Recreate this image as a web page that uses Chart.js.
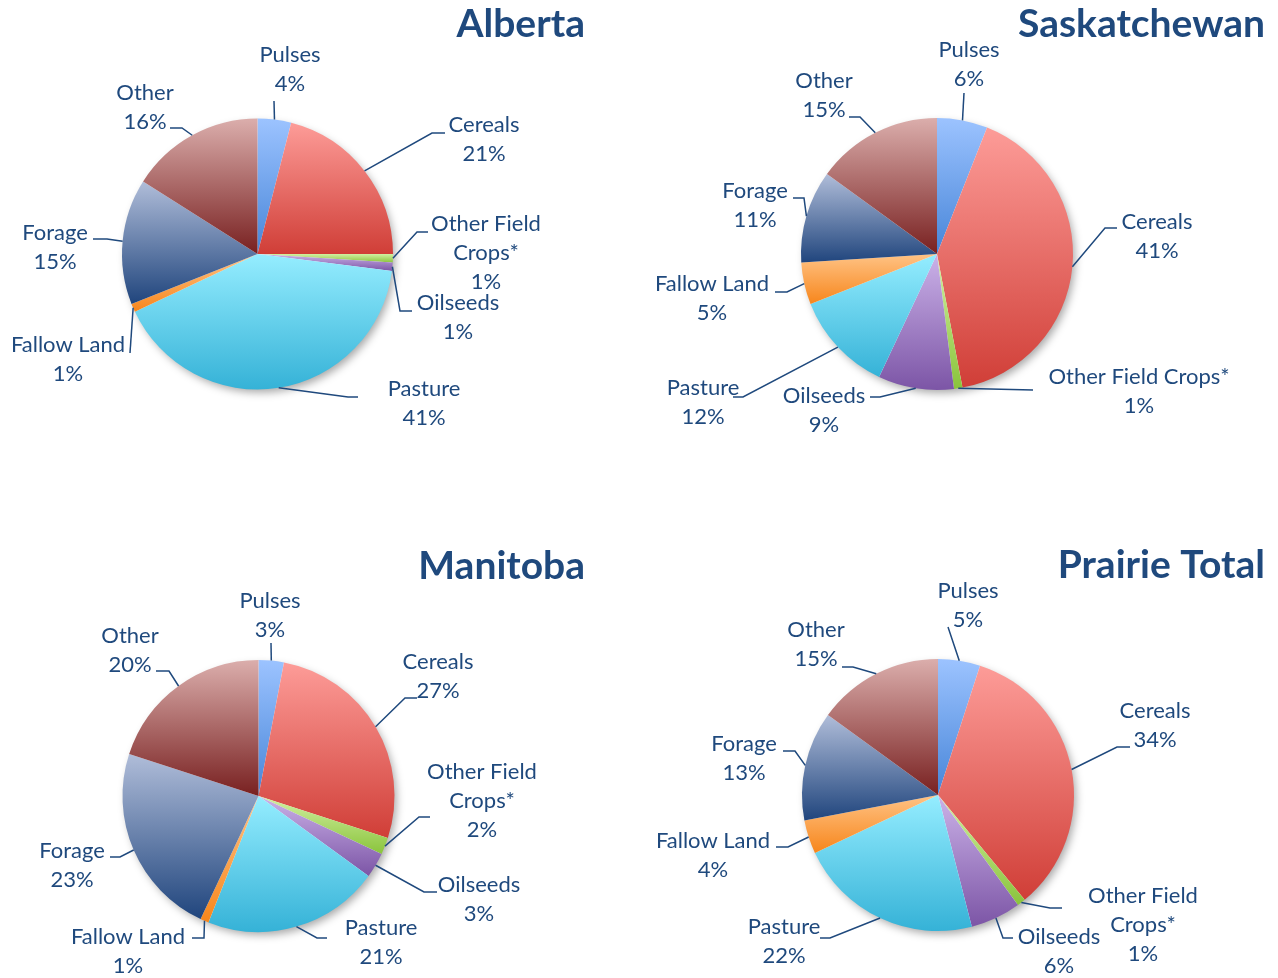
<!DOCTYPE html>
<html>
<head>
<meta charset="utf-8">
<script src="https://cdn.jsdelivr.net/npm/chart.js@4.4.0/dist/chart.umd.min.js"></script>
<style>
    body { margin: 0; background: #ffffff; }
    .panel { position: absolute; width: 639px; height: 489px; }
</style>
</head>
<body>
<div class="panel" style="left:0;top:0"><canvas id="alberta" width="639" height="489"></canvas></div>
<div class="panel" style="left:639px;top:0"><canvas id="saskatchewan" width="639" height="489"></canvas></div>
<div class="panel" style="left:0;top:489px"><canvas id="manitoba" width="639" height="489"></canvas></div>
<div class="panel" style="left:639px;top:489px"><canvas id="prairie" width="639" height="489"></canvas></div>
<script>
// Land use shares (%) by province
const categories = ['Pulses', 'Cereals', 'Other Field Crops*', 'Oilseeds', 'Pasture', 'Fallow Land', 'Forage', 'Other'];
const albertaShares = [4, 21, 1, 1, 41, 1, 15, 16];
const saskatchewanShares = [6, 41, 1, 9, 12, 5, 11, 15];
const manitobaShares = [3, 27, 2, 3, 21, 1, 23, 20];
const prairieShares = [5, 34, 1, 6, 22, 4, 13, 15];

// gradient colours per category (top -> bottom)
const topColors = ['#9CC3FF', '#FD9C98', '#D2F0A2', '#CBB2E8', '#95EDFF', '#FFC385', '#B0BDD9', '#DBAEAC'];
const bottomColors = ['#4785D8', '#D03E37', '#8AC43C', '#7C55A6', '#35B2D7', '#F7861C', '#20457D', '#782020'];

const TEXT_COLOR = '#1F497D';
const LABEL_FONT = '22px Lato';
const TITLE_FONT = 'bold 39px Lato';
const LINE_GAP = 29;

// label placement (page coordinates); leader starts at slice edge
const panels = [
    {
        id: 'alberta', title: 'Alberta', data: albertaShares,
        ox: 0, oy: 0, cx: 257.5, cy: 254, r: 135.5, titleRight: 585, titleBase: 37,
        labels: [
            { x: 290, y: 55, elbow: [274, 101], end: [274, 101] },
            { x: 484, y: 125, elbow: [432, 133], end: [445, 133] },
            { lines: ['Other Field', 'Crops*'], x: 486, y: 224, elbow: [417, 232], end: [428, 232] },
            { x: 458, y: 303, elbow: [400, 311], end: [412, 311] },
            { x: 424, y: 389, elbow: [348, 397], end: [358, 397] },
            { x: 68, y: 345, elbow: [130, 353], end: [130, 353] },
            { x: 55, y: 233, elbow: [107, 239], end: [93, 239] },
            { x: 145, y: 93, elbow: [182, 128], end: [170, 128] }
        ]
    },
    {
        id: 'saskatchewan', title: 'Saskatchewan', data: saskatchewanShares,
        ox: 639, oy: 0, cx: 937, cy: 254, r: 136, titleRight: 1265, titleBase: 37,
        labels: [
            { x: 969, y: 50, elbow: [964, 93], end: [964, 93] },
            { x: 1157, y: 222, elbow: [1105, 228], end: [1117, 228] },
            { x: 1139, y: 377, elbow: [1033, 390], end: [1033, 390] },
            { x: 824, y: 396, elbow: [880, 397], end: [870, 397] },
            { x: 703, y: 388, elbow: [743, 397], end: [733, 397] },
            { x: 712, y: 284, elbow: [787, 292], end: [775, 292] },
            { x: 755, y: 191, elbow: [804, 198], end: [793, 198] },
            { x: 824, y: 81, elbow: [860, 117], end: [849, 117] }
        ]
    },
    {
        id: 'manitoba', title: 'Manitoba', data: manitobaShares,
        ox: 0, oy: 489, cx: 258.5, cy: 796, r: 136, titleRight: 585, titleBase: 579,
        labels: [
            { x: 270, y: 601, elbow: [271, 643], end: [271, 643] },
            { x: 438, y: 662, elbow: [405, 698], end: [417, 698] },
            { lines: ['Other Field', 'Crops*'], x: 482, y: 772, elbow: [419, 817], end: [430, 817] },
            { x: 479, y: 885, elbow: [424, 892], end: [437, 892] },
            { x: 381, y: 928, elbow: [317, 938], end: [327, 938] },
            { x: 128, y: 937, elbow: [204, 938], end: [192, 938] },
            { x: 72, y: 851, elbow: [120, 857], end: [110, 857] },
            { x: 130, y: 636, elbow: [169, 671], end: [156, 671] }
        ]
    },
    {
        id: 'prairie', title: 'Prairie Total', data: prairieShares,
        ox: 639, oy: 489, cx: 938, cy: 795, r: 136, titleRight: 1265, titleBase: 578,
        labels: [
            { x: 968, y: 591, elbow: [948, 627], end: [948, 627] },
            { x: 1155, y: 711, elbow: [1117, 747], end: [1130, 747] },
            { lines: ['Other Field', 'Crops*'], x: 1143, y: 896, elbow: [1050, 908], end: [1062, 908] },
            { x: 1059, y: 937, elbow: [1003, 938], end: [1013, 938] },
            { x: 784, y: 927, elbow: [830, 938], end: [820, 938] },
            { x: 713, y: 841, elbow: [788, 847], end: [776, 847] },
            { x: 744, y: 744, elbow: [795, 751], end: [783, 751] },
            { x: 816, y: 630, elbow: [853, 667], end: [842, 667] }
        ]
    }
];

// vertical gradient spanning the slice's bounding box
function sliceGradient(context) {
    const i = context.dataIndex;
    if (i === undefined) return topColors[0];
    const chart = context.chart;
    const area = chart.chartArea;
    if (!area) return topColors[i];
    const data = context.dataset.data;
    const total = data.reduce((a, b) => a + b, 0);
    let before = 0;
    for (let k = 0; k < i; k++) before += data[k];
    const a0 = -Math.PI / 2 + before / total * 2 * Math.PI;
    const a1 = a0 + data[i] / total * 2 * Math.PI;
    const cx = (area.left + area.right) / 2;
    const cy = (area.top + area.bottom) / 2;
    const r = Math.min(area.width, area.height) / 2;
    const ys = [cy, cy + r * Math.sin(a0), cy + r * Math.sin(a1)];
    [-Math.PI / 2, Math.PI / 2, 3 * Math.PI / 2].forEach(a => {
        if (a >= a0 && a <= a1) ys.push(cy + r * Math.sin(a));
    });
    const y0 = Math.min(...ys);
    const y1 = Math.max(...ys);
    const g = chart.ctx.createLinearGradient(0, y0, 0, y1 + 0.01);
    g.addColorStop(0, topColors[i]);
    g.addColorStop(1, bottomColors[i]);
    return g;
}

// soft shadow behind the pie
const shadowPlugin = {
    id: 'pieShadow',
    beforeDatasetsDraw(chart) {
        const arc = chart.getDatasetMeta(0).data[0];
        if (!arc) return;
        const ctx = chart.ctx;
        ctx.save();
        ctx.shadowColor = 'rgba(0, 0, 0, 0.35)';
        ctx.shadowBlur = 9;
        ctx.shadowOffsetX = 3;
        ctx.shadowOffsetY = 4;
        ctx.fillStyle = '#ffffff';
        ctx.beginPath();
        ctx.arc(arc.x, arc.y, arc.outerRadius - 1, 0, Math.PI * 2);
        ctx.fill();
        ctx.restore();
    }
};

// titles, data labels and leader lines
const labelPlugin = {
    id: 'pieLabels',
    afterDatasetsDraw(chart, args, opts) {
        const p = opts.panel;
        const ctx = chart.ctx;
        const arcs = chart.getDatasetMeta(0).data;
        ctx.save();
        ctx.fillStyle = TEXT_COLOR;
        ctx.strokeStyle = TEXT_COLOR;
        ctx.lineWidth = 1.5;

        ctx.font = TITLE_FONT;
        ctx.textAlign = 'right';
        ctx.textBaseline = 'alphabetic';
        ctx.fillText(p.title, p.titleRight - p.ox, p.titleBase - p.oy);

        ctx.font = LABEL_FONT;
        ctx.textAlign = 'center';
        ctx.textBaseline = 'middle';
        p.labels.forEach((lab, i) => {
            const arc = arcs[i];
            const mid = (arc.startAngle + arc.endAngle) / 2;
            const sx = arc.x + arc.outerRadius * Math.cos(mid);
            const sy = arc.y + arc.outerRadius * Math.sin(mid);
            ctx.beginPath();
            ctx.moveTo(sx, sy);
            ctx.lineTo(lab.elbow[0] - p.ox, lab.elbow[1] - p.oy);
            ctx.lineTo(lab.end[0] - p.ox, lab.end[1] - p.oy);
            ctx.stroke();

            const lines = (lab.lines || [categories[i]]).concat([p.data[i] + '%']);
            lines.forEach((t, k) => {
                ctx.fillText(t, lab.x - p.ox, lab.y - p.oy + k * LINE_GAP);
            });
        });
        ctx.restore();
    }
};

function createPie(p) {
    const left = p.cx - p.r - p.ox;
    const top = p.cy - p.r - p.oy;
    new Chart(document.getElementById(p.id), {
        type: 'pie',
        data: {
            labels: categories,
            datasets: [{
                data: p.data,
                backgroundColor: sliceGradient,
                borderWidth: 0,
                hoverOffset: 0
            }]
        },
        options: {
            responsive: false,
            animation: false,
            events: [],
            layout: {
                padding: {
                    left: left,
                    top: top,
                    right: 639 - left - 2 * p.r,
                    bottom: 489 - top - 2 * p.r
                }
            },
            plugins: {
                legend: { display: false },
                tooltip: { enabled: false },
                pieLabels: { panel: p }
            }
        },
        plugins: [shadowPlugin, labelPlugin]
    });
}

panels.forEach(createPie);
</script>
</body>
</html>
